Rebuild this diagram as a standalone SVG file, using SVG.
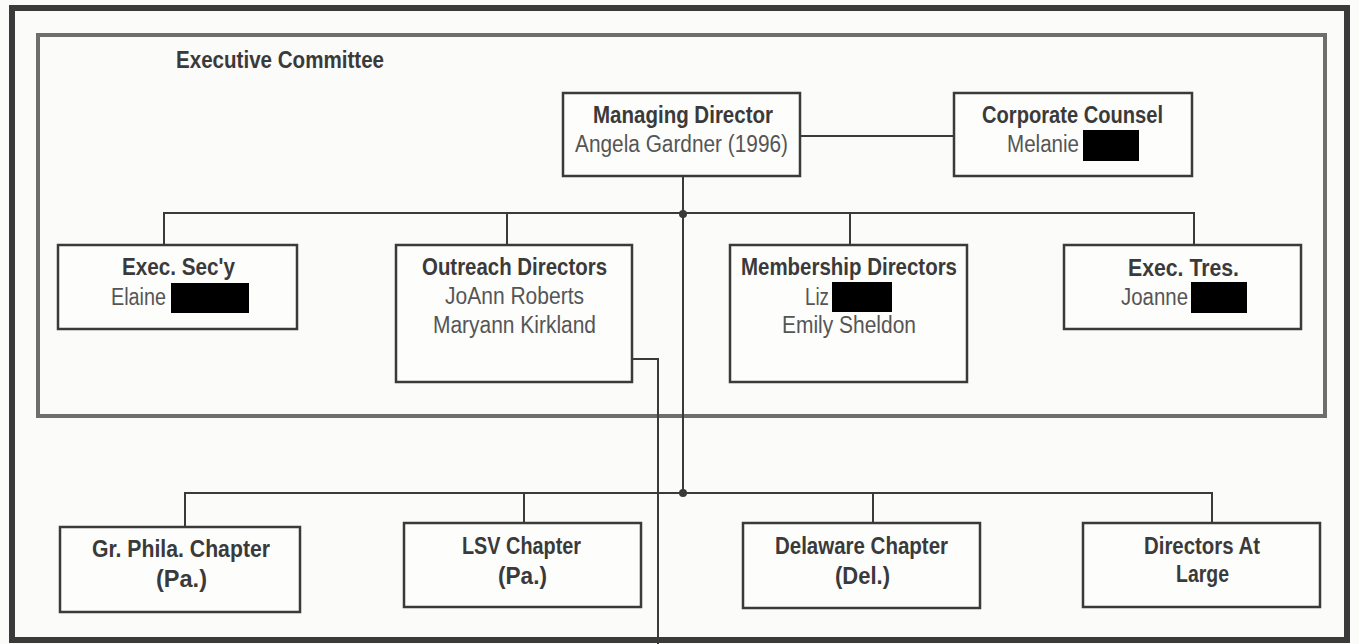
<svg xmlns="http://www.w3.org/2000/svg" width="1359" height="644" viewBox="0 0 1359 644">
<style>
.box{fill:#fdfdfc;stroke:#3a3a3a;stroke-width:2.5}
.b{font-family:"Liberation Sans Narrow","Liberation Sans",Arial,sans-serif;font-weight:700;font-size:23px;fill:#3a3a3a}
.r{font-family:"Liberation Sans Narrow","Liberation Sans",Arial,sans-serif;font-weight:400;font-size:23.5px;fill:#555}
.ln{fill:none;stroke:#3a3a3a;stroke-width:2}
.red{fill:#000}
</style>
<rect x="0" y="0" width="1359" height="644" fill="#fbfbfa"/>
<g id="frame">
<rect x="12" y="8" width="1335" height="632" fill="none" stroke="#3a3a3a" stroke-width="6"/>
</g>
<g id="executive-committee">
<rect x="38" y="35" width="1287" height="381" fill="none" stroke="#6e6e6e" stroke-width="4"/>
<text class="b" x="176" y="68" textLength="208" lengthAdjust="spacingAndGlyphs">Executive Committee</text>
</g>
<g id="connectors">
<line class="ln" x1="800" y1="136" x2="954" y2="136" stroke="#8a8a8a" stroke-width="1.8"/>
<line class="ln" x1="683" y1="176" x2="683" y2="493"/>
<polyline class="ln" points="164,245 164,213 1194,213 1194,245"/>
<line class="ln" x1="507" y1="213" x2="507" y2="245"/>
<line class="ln" x1="850" y1="213" x2="850" y2="245"/>
<circle cx="683" cy="214" r="4" fill="#3a3a3a"/>
<polyline class="ln" points="185,527 185,493 1212,493 1212,523"/>
<line class="ln" x1="524" y1="493" x2="524" y2="523"/>
<line class="ln" x1="873" y1="493" x2="873" y2="523"/>
<circle cx="683" cy="493" r="4" fill="#3a3a3a"/>
<polyline class="ln" points="632,359 658,359 658,644"/>
</g>
<g id="managing-director">
<rect class="box" x="563" y="93" width="237" height="83"/>
<text class="b" x="593" y="123" textLength="180" lengthAdjust="spacingAndGlyphs">Managing Director</text>
<text class="r" x="575" y="152" textLength="213" lengthAdjust="spacingAndGlyphs">Angela Gardner (1996)</text>
</g>
<g id="corporate-counsel">
<rect class="box" x="954" y="93" width="238" height="83"/>
<text class="b" x="982" y="123" textLength="181" lengthAdjust="spacingAndGlyphs">Corporate Counsel</text>
<text class="r" x="1007" y="152" textLength="72" lengthAdjust="spacingAndGlyphs">Melanie</text>
<rect class="red" x="1083" y="130" width="56" height="31"/>
</g>
<g id="exec-secy">
<rect class="box" x="58" y="245" width="239" height="84"/>
<text class="b" x="122" y="275" textLength="113" lengthAdjust="spacingAndGlyphs">Exec. Sec'y</text>
<text class="r" x="111" y="305" textLength="55" lengthAdjust="spacingAndGlyphs">Elaine</text>
<rect class="red" x="171" y="283" width="78" height="30"/>
</g>
<g id="outreach-directors">
<rect class="box" x="396" y="245" width="236" height="137"/>
<text class="b" x="422" y="275" textLength="185" lengthAdjust="spacingAndGlyphs">Outreach Directors</text>
<text class="r" x="445" y="304" textLength="139" lengthAdjust="spacingAndGlyphs">JoAnn Roberts</text>
<text class="r" x="433" y="333" textLength="163" lengthAdjust="spacingAndGlyphs">Maryann Kirkland</text>
</g>
<g id="membership-directors">
<rect class="box" x="730" y="245" width="237" height="137"/>
<text class="b" x="741" y="275" textLength="216" lengthAdjust="spacingAndGlyphs">Membership Directors</text>
<text class="r" x="805" y="305" textLength="24" lengthAdjust="spacingAndGlyphs">Liz</text>
<rect class="red" x="832" y="282" width="60" height="30"/>
<text class="r" x="782" y="333" textLength="134" lengthAdjust="spacingAndGlyphs">Emily Sheldon</text>
</g>
<g id="exec-tres">
<rect class="box" x="1064" y="245" width="237" height="84"/>
<text class="b" x="1128" y="276" textLength="111" lengthAdjust="spacingAndGlyphs">Exec. Tres.</text>
<text class="r" x="1121" y="305" textLength="67" lengthAdjust="spacingAndGlyphs">Joanne</text>
<rect class="red" x="1191" y="282" width="56" height="31"/>
</g>
<g id="gr-phila-chapter">
<rect class="box" x="60" y="527" width="240" height="85"/>
<text class="b" x="92" y="557" textLength="178" lengthAdjust="spacingAndGlyphs">Gr. Phila. Chapter</text>
<text class="b" x="156" y="587" textLength="51" lengthAdjust="spacingAndGlyphs">(Pa.)</text>
</g>
<g id="lsv-chapter">
<rect class="box" x="404" y="523" width="237" height="84"/>
<text class="b" x="462" y="554" textLength="119" lengthAdjust="spacingAndGlyphs">LSV Chapter</text>
<text class="b" x="498" y="584" textLength="49" lengthAdjust="spacingAndGlyphs">(Pa.)</text>
</g>
<g id="delaware-chapter">
<rect class="box" x="743" y="523" width="237" height="85"/>
<text class="b" x="775" y="554" textLength="173" lengthAdjust="spacingAndGlyphs">Delaware Chapter</text>
<text class="b" x="835" y="584" textLength="55" lengthAdjust="spacingAndGlyphs">(Del.)</text>
</g>
<g id="directors-at-large">
<rect class="box" x="1083" y="523" width="237" height="84"/>
<text class="b" x="1144" y="554" textLength="116" lengthAdjust="spacingAndGlyphs">Directors At</text>
<text class="b" x="1176" y="582" textLength="53" lengthAdjust="spacingAndGlyphs">Large</text>
</g>
</svg>
